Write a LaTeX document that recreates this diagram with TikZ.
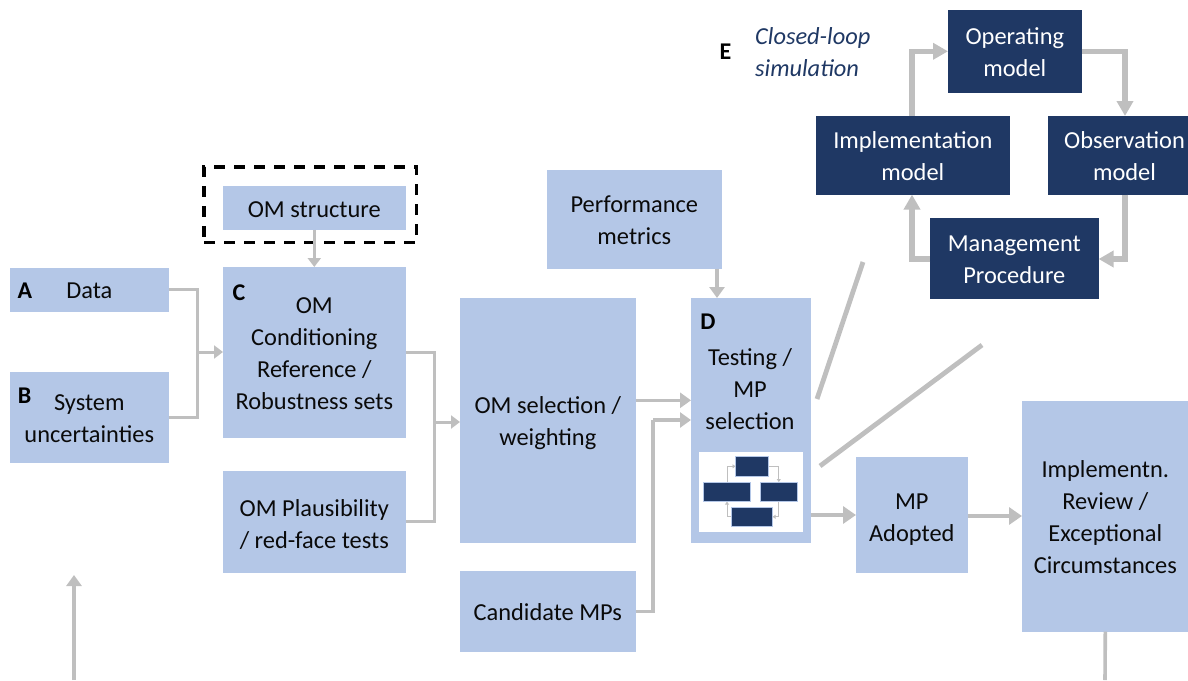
\documentclass[tikz,border=0pt]{standalone}
\usepackage{fontspec}
\setmainfont{Carlito}
\usetikzlibrary{arrows.meta,calc}
\definecolor{lightbox}{HTML}{B4C7E7}
\definecolor{darkbox}{HTML}{1F3864}
\definecolor{conn}{HTML}{BFBFBF}
\definecolor{inktext}{HTML}{0A0A0A}
\newcommand{\bx}[7]{%
  \pgfmathsetmacro{\bxcx}{(#2+#4)/2+0.3}%
  \pgfmathsetmacro{\bxcy}{(#3+#5)/2+0.3}%
  \pgfmathsetmacro{\bxw}{#4-#2+0.6}%
  \pgfmathsetmacro{\bxh}{#5-#3+0.6}%
  \node[#6,minimum width=\bxw pt,minimum height=\bxh pt] (#1) at (\bxcx,\bxcy) {#7};%
}
\newcommand{\topstrut}{\rule{0pt}{24pt}}
\newcommand{\botstrut}{\rule[-6pt]{0pt}{6pt}}
\tikzset{
  base/.style={inner sep=0pt,outer sep=0pt,align=center,font=\fontsize{24.4}{32}\selectfont},
  lightnode/.style={base,fill=lightbox,text=inktext},
  darknode/.style={base,fill=darkbox,text=white},
  whitenode/.style={base,fill=white},
  minidark/.style={base,fill=darkbox,draw=lightbox,line width=0.4pt},
  letter/.style={inner sep=0pt,font=\fontsize{24}{28}\selectfont\bfseries,text=black},
  words/.style={inner sep=0pt,align=center,font=\fontsize{24.4}{32}\selectfont,text=inktext},
  wordswhite/.style={words,text=white},
  italicnote/.style={inner sep=0pt,align=left,font=\fontsize{24.4}{32}\selectfont\itshape,text=darkbox},
  thin conn/.style={draw=conn,line width=3pt},
  thin arrow/.style={thin conn,-{Triangle[width=13pt,length=9pt]}},
  mid conn/.style={draw=conn,line width=3.6pt},
  mid arrow/.style={mid conn,-{Triangle[width=15pt,length=11pt]}},
  thick conn/.style={draw=conn,line width=4.8pt},
  thick arrow/.style={thick conn,-{Triangle[width=17pt,length=13pt]}},
  loop arrow/.style={draw=conn,line width=5.4pt,-{Triangle[width=16pt,length=15pt]}},
  mini conn/.style={draw=conn,line width=0.9pt,-{Triangle[width=4pt,length=3pt]}},
  dashbox/.style={draw=black,line width=3.6pt,dash pattern=on 11pt off 9pt,inner sep=0pt,outer sep=0pt},
}
\begin{document}
\begin{tikzpicture}[x=1pt,y=-1pt]
\useasboundingbox (0,0) rectangle (1188,680);
% light boxes
\bx{dat}{10}{268}{168}{311}{lightnode}{\topstrut Data\botstrut}
\bx{unc}{10}{372}{168}{462}{lightnode}{\topstrut System\\uncertainties\botstrut}
\bx{str}{223}{186}{405}{229}{lightnode}{\rule{0pt}{25pt}OM structure\botstrut}
\bx{cond}{223}{267}{405}{437}{lightnode}{\topstrut OM\\Conditioning\\Reference /\\Robustness sets\botstrut}
\bx{plaus}{223}{471}{405}{572}{lightnode}{\rule{0pt}{27pt}OM Plausibility\\/ red-face tests\botstrut}
\bx{sel}{460}{298}{635}{542}{lightnode}{\topstrut OM selection /\\weighting\botstrut}
\bx{cand}{460}{571}{635}{651}{lightnode}{\topstrut Candidate MPs\botstrut}
\bx{perf}{547}{170}{721}{268}{lightnode}{\topstrut Performance\\metrics\botstrut}
\bx{test}{691}{298}{810}{542}{lightnode}{}
\bx{adopt}{856}{457}{967}{572}{lightnode}{\rule{0pt}{27pt}MP\\Adopted\botstrut}
\bx{impln}{1022}{401}{1188}{631}{lightnode}{\topstrut Implementn.\\Review /\\Exceptional\\Circumstances\botstrut}
% dashed frame
\bx{frame}{204}{167}{416}{242}{dashbox}{}
% dark boxes
\bx{oper}{948}{10}{1081}{92}{darknode}{\topstrut Operating\\model\botstrut}
\bx{impl}{816}{116}{1009}{194}{darknode}{\topstrut Implementation\\model\botstrut}
\bx{obs}{1048}{116}{1188}{194}{darknode}{}
\bx{mgmt}{930}{218}{1098}{298}{darknode}{\rule{0pt}{25pt}Management\\Procedure\botstrut}
\node[wordswhite] (obstext) at (1124.5,156) {Observation\\model};
% letters and free text
\node[letter] (la) at (25,291) {A};
\node[letter] (lb) at (24.5,396) {B};
\node[letter] (lc) at (239,293) {C};
\node[letter] (ld) at (708,322) {D};
\node[letter] (le) at (725.5,52) {E};
\node[words] (testtext) at (750,389) {Testing /\\MP\\selection};
\node[italicnote,anchor=west] (closed) at (755,52) {Closed-loop\\simulation};
% mini diagram
\bx{miniw}{699}{452}{802}{531}{whitenode}{}
\bx{mtop}{735.5}{456}{768}{476}{minidark}{}
\bx{mleft}{703}{482}{750}{501}{minidark}{}
\bx{mright}{760}{482}{797}{501}{minidark}{}
\bx{mbot}{731}{507}{772}{526}{minidark}{}
\draw[mini conn] (mleft.north -| 727,0) |- (mtop.west);
\draw[mini conn] (mtop.east) -| (mright.north);
\draw[mini conn] (mright.south) |- (mbot.east);
\draw[mini conn] (mbot.west) -| (mleft.south -| 727,0);
% free-end coordinates
\coordinate (jl) at (197,352);
\coordinate (jm) at (434,422);
\coordinate (jc) at (653,420);
\coordinate (z1a) at (817,399);
\coordinate (z1b) at (863,262);
\coordinate (z2a) at (820,466);
\coordinate (z2b) at (982,345);
\coordinate (bl1) at (74,680);
\coordinate (bl2) at (74,575);
\coordinate (br2) at (1105,680);
% connectors, left part
\draw[thin conn] (dat.east) -| (jl);
\draw[thin conn] (unc.east) -| (jl);
\draw[thin arrow] (jl) -- (jl -| cond.west);
\draw[thin arrow] (str.south) -- (cond.north);
\draw[thin conn] (cond.east) -| (jm);
\draw[thin conn] (plaus.east) -| (jm);
\draw[thin arrow] (jm) -- (jm -| sel.west);
\draw[mid arrow] (bl1) -- (bl2);
% connectors, centre
\draw[mid arrow] ([yshift=20pt]sel.east) -- ([yshift=20pt]sel.east -| test.west);
\draw[mid conn] (cand.east) -| (jc);
\draw[mid arrow] (jc) -- (jc -| test.west);
\draw[mid arrow] (perf.south -| 717,0) -- (test.north -| 717,0);
\draw[thick arrow] (test.south east |- 0,515) -- (adopt.west |- 0,515);
\draw[thick arrow] (adopt.east |- 0,516) -- (impln.west |- 0,516);
\draw[mid conn] (impln.south) -- (br2);
\draw[thick conn] (z1a) -- (z1b);
\draw[thick conn] (z2a) -- (z2b);
% closed loop
\draw[loop arrow] (impl.north -| 912,0) |- (oper.west);
\draw[loop arrow] (oper.east) -| (obs.north -| 1125,0);
\draw[loop arrow] (obs.south -| 1125,0) |- (mgmt.east |- 0,259);
\draw[loop arrow] (mgmt.west |- 0,259) -| (impl.south -| 912,0);
\end{tikzpicture}
\end{document}
